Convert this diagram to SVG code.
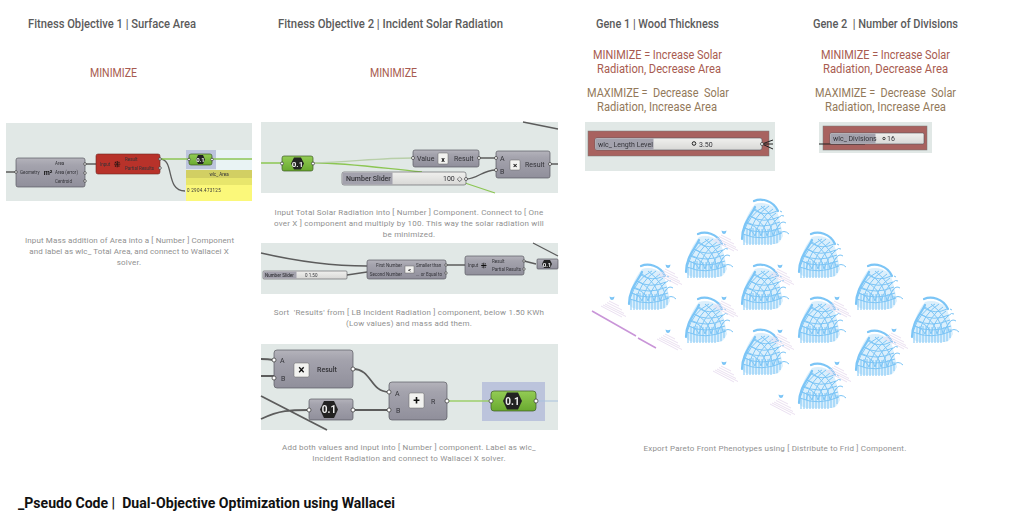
<svg xmlns="http://www.w3.org/2000/svg" width="1024" height="517" viewBox="0 0 1024 517">
<style>
text{font-family:Roboto,"Liberation Sans",sans-serif;white-space:pre}
.t{font-size:12px;font-weight:500;fill:#5b5b5b}
.r{font-size:12px;fill:#a85b50;text-anchor:middle}
.o{font-size:12px;fill:#93795a;text-anchor:middle}
.c{font-size:8px;fill:#909090;text-anchor:middle;letter-spacing:.2px}
.bg{fill:#e1e8e6}
.n{fill:url(#gn);stroke:#5a5a62;stroke-width:.7}
.g{fill:url(#gg);stroke:#3e5a26;stroke-width:.7}
.s{fill:url(#gs);stroke:#55555c;stroke-width:.6}
.sl{fill:#a3a2ad}
.w{fill:none;stroke:#5c5c5c;stroke-width:1.300}
.wb{fill:none;stroke:#5c5c5c;stroke-width:1.800}
.wg{fill:none;stroke:#8cc653;stroke-width:1.300}
.l{font-size:4.500px;fill:#333338}
.m{font-size:7px;fill:#333338}
.ib{fill:#f2f2f0;stroke:#666;stroke-width:.5}
.ic{font-weight:700;fill:#111;text-anchor:middle}
.h{fill:#222}
.h2{fill:#eee;font-weight:700;text-anchor:middle}
.p{fill:#fff;stroke:#333;stroke-width:.7}
.dm{fill:none;stroke:#7cc5f6;stroke-width:1}
.db{fill:#7cc5f6;fill-opacity:.28}
.dk{fill:none;stroke:#7cc5f6;stroke-width:2.200;stroke-linecap:round}
.lb{fill:none;stroke:#e8dcef;stroke-width:.9}
</style>
<defs>
<linearGradient id="gn" x1="0" y1="0" x2="0" y2="1"><stop offset="0" stop-color="#b4b3bb"/><stop offset=".25" stop-color="#a4a3ad"/><stop offset="1" stop-color="#908f9b"/></linearGradient>
<linearGradient id="gg" x1="0" y1="0" x2="0" y2="1"><stop offset="0" stop-color="#93cc55"/><stop offset="1" stop-color="#69a92f"/></linearGradient>
<linearGradient id="gs" x1="0" y1="0" x2="0" y2="1"><stop offset="0" stop-color="#f0f0ee"/><stop offset="1" stop-color="#d8d8d6"/></linearGradient>
<filter id="soft" x="-2%" y="-2%" width="104%" height="104%"><feGaussianBlur stdDeviation="0.35"/></filter>
<symbol id="dome" width="50" height="50" viewBox="0 0 50 50" overflow="visible">
<path class="db" d="M14,6C6,16 1,28 1,41Q3,45 8,46L36,46Q40,43 42,38C40,28 38,18 35,11C28,5 20,4 14,6Z"/>
<path class="dk" d="M13,3C20,0 32,2 37,13M14,9C10,18 1,26 1,41"/>
<path class="dm" d="M3,47V36M6,47V32M9,47V30M12,47V30M15,47V30M18,47V31M21,47V31M24,47V31M27,47V31M30,47V31M33,46V31M36,45V31M39,42V33M2,36Q20,44 41,35M3,30Q20,38 40,30M5,24Q20,32 39,24M9,18Q22,26 38,19M13,12Q24,19 36,13M2,36Q8,16 24,8M8,38Q12,18 28,8M14,38Q18,20 32,11M20,38Q24,22 35,15M26,38Q30,26 37,20M32,38Q35,30 39,26M38,36Q36,20 20,8M32,38Q30,20 14,11M26,38Q24,24 9,18M20,38Q18,28 5,25M14,38Q12,32 3,30M38,36Q43,31 48,36M37,28Q41,22 45,25M37,20Q41,16 43,18M39,13L41,14"/>
</symbol>
<symbol id="lab" width="30" height="24" viewBox="-13 -3 30 24" overflow="visible">
<path d="M-2.500,-1.500Q0,0 2.500,-1.500Q2,2 0,2Q-2,2 -2.500,-1.500Z" fill="#7cc5f6"/>
<path class="lb" d="M-3,3L7,8M-5,4.500L10,12M-7,6L12,15.500M-9,7L14,18.500M-11,8L10,19"/>
</symbol>
</defs>
<rect width="1024" height="517" fill="#fff"/>
<g id="headings">
<text class="t" x="28" y="28" textLength="168" lengthAdjust="spacingAndGlyphs">Fitness Objective 1 | Surface Area</text>
<text class="t" x="278" y="28" textLength="225" lengthAdjust="spacingAndGlyphs">Fitness Objective 2 | Incident Solar Radiation</text>
<text class="t" x="596" y="28" textLength="123" lengthAdjust="spacingAndGlyphs">Gene 1 | Wood Thickness</text>
<text class="t" x="813" y="28" textLength="145" lengthAdjust="spacingAndGlyphs">Gene 2  | Number of Divisions</text>
<text class="r" x="90" y="77" style="text-anchor:start" textLength="47" lengthAdjust="spacingAndGlyphs">MINIMIZE</text>
<text class="r" x="370" y="77" style="text-anchor:start" textLength="47" lengthAdjust="spacingAndGlyphs">MINIMIZE</text>
<text class="r" x="593" y="59" style="text-anchor:start" textLength="129" lengthAdjust="spacingAndGlyphs">MINIMIZE = Increase Solar</text>
<text class="r" x="597" y="73" style="text-anchor:start" textLength="124" lengthAdjust="spacingAndGlyphs">Radiation, Decrease Area</text>
<text class="o" x="587" y="97" style="text-anchor:start" textLength="142" lengthAdjust="spacingAndGlyphs">MAXIMIZE =  Decrease  Solar</text>
<text class="o" x="597" y="111" style="text-anchor:start" textLength="120" lengthAdjust="spacingAndGlyphs">Radiation, Increase Area</text>
<text class="r" x="821" y="59" style="text-anchor:start" textLength="129" lengthAdjust="spacingAndGlyphs">MINIMIZE = Increase Solar</text>
<text class="r" x="823" y="73" style="text-anchor:start" textLength="125" lengthAdjust="spacingAndGlyphs">Radiation, Decrease Area</text>
<text class="o" x="815" y="97" style="text-anchor:start" textLength="141" lengthAdjust="spacingAndGlyphs">MAXIMIZE =  Decrease  Solar</text>
<text class="o" x="825" y="111" style="text-anchor:start" textLength="121" lengthAdjust="spacingAndGlyphs">Radiation, Increase Area</text>
</g>
<g id="screens" filter="url(#soft)">
<g id="panels">
<rect class="bg" x="6" y="123" width="246" height="78"/>
<rect class="bg" x="261" y="122" width="297" height="71"/>
<rect class="bg" x="261" y="243" width="297" height="51"/>
<rect class="bg" x="261" y="344" width="297" height="86"/>
<rect class="bg" x="585" y="122" width="190" height="49"/>
<rect class="bg" x="819" y="122" width="113" height="31"/>
<rect x="588" y="131" width="181" height="25" fill="#a8625f" stroke="#777" stroke-width=".5"/>
<rect x="823" y="126" width="104" height="24" fill="#a8625f" stroke="#777" stroke-width=".5"/>
<rect x="186" y="150" width="30" height="19" fill="#bcc4dc"/>
<rect x="216" y="150" width="36" height="20" fill="#e9f3f4"/>
<rect x="482" y="382" width="63" height="39" fill="#bcc4dc"/>
</g>
<g id="connectors">
<path class="w" d="M6,172H16M85,164H96M160,159C175,159 165,191 185,191"/>
<path class="wg" d="M160,159H252"/>
<path class="wg" d="M261,163H282M313,163C350,163 380,168 422,172M465,183L495,193"/>
<path d="M313,163C350,162 380,158 413,158" fill="none" stroke="#b8cfa8" stroke-width="1.300"/>
<path class="w" d="M479,158H496M466,179C478,179 482,170 496,170M550,164H558M523,122L558,129"/>
<path class="w" d="M261,253C300,262 330,266 367,266M347,275L367,272M446,265H465M524,261L536,264M533,243L558,256"/>
<path class="wb" d="M261,359Q268,359 274,360M261,376H274M353,369C372,369 370,392 389,392M353,410H389M261,396L327,430M261,419C280,410 290,410 309,410"/>
<path d="M447,401H491" fill="none" stroke="#9ccf6a" stroke-width="1.500"/>
<path d="M536,401H558" fill="none" stroke="#a9c2de" stroke-width="1"/>
<path d="M762,144L773,140M762,144H773M762,144L773,149" fill="none" stroke="#222" stroke-width="1"/>
<path d="M819,144H865" fill="none" stroke="#222" stroke-width="1.200"/>
</g>
<g id="node-area">
<rect class="n" x="16" y="158" width="69" height="29" rx="2"/>
<text class="l" x="20" y="174">Geometry</text><text class="ic" x="48" y="175" font-size="7">m²</text>
<text class="l" x="55" y="165">Area</text><text class="l" x="55" y="174">Area (error)</text><text class="l" x="55" y="183">Centroid</text>
<circle class="p" cx="16" cy="172" r="1.300"/><circle class="p" cx="85" cy="164" r="1.300"/><circle class="p" cx="85" cy="173" r="1.300"/><circle class="p" cx="85" cy="181" r="1.300"/>
</g>
<g id="node-mass-a">
<rect x="96" y="154" width="64" height="20" rx="2" fill="#b8322a" stroke="#6d2520" stroke-width=".6"/>
<text class="l" x="100" y="166">Input</text><text class="ic" x="117" y="167" font-size="8">⁜</text>
<text class="l" x="125" y="161">Result</text><text class="l" x="125" y="170">Partial Results</text>
<circle class="p" cx="160" cy="159" r="1.300"/><circle class="p" cx="160" cy="168" r="1.300"/>
</g>
<g id="node-num-a">
<rect class="g" x="189" y="154" width="23" height="11" rx="2"/>
<polygon class="h" points="196,159.500 198,155 203,155 205,159.500 203,164 198,164"/>
<text class="h2" x="200.500" y="162" font-size="6">0.1</text>
<circle class="p" cx="189" cy="159.500" r="1.300"/><circle class="p" cx="212" cy="159.500" r="1.300"/>
</g>
<g id="panel-area">
<rect x="186" y="170" width="66" height="8" fill="#d2cf63"/>
<rect x="186" y="178" width="66" height="7" fill="#e8e66c"/>
<rect x="186" y="185" width="66" height="16" fill="#fbf87a"/>
<text class="l" x="219" y="176" text-anchor="middle">wlc_ Area</text>
<text class="l" x="187" y="191.500" letter-spacing=".3">0 2904.473125</text>
</g>
<g id="node-num-b">
<rect class="g" x="282" y="156" width="31" height="15" rx="2"/>
<polygon class="h" points="291,163.500 294,157.500 301,157.500 304,163.500 301,169.500 294,169.500"/>
<text class="h2" x="297.500" y="166.500" font-size="8">0.1</text>
<circle class="p" cx="282" cy="163.500" r="1.500"/><circle class="p" cx="313" cy="163.500" r="1.500"/>
</g>
<g id="node-value">
<rect class="n" x="413" y="150" width="66" height="17" rx="2"/>
<text class="m" x="417" y="161" font-size="6">Value</text><rect class="ib" x="438" y="153" width="10" height="11" rx="1"/>
<text class="ic" x="443" y="161.500" font-size="7">x</text><text class="m" x="454" y="161">Result</text>
<circle class="p" cx="413" cy="158" r="1.500"/><circle class="p" cx="479" cy="158" r="1.500"/>
</g>
<g id="node-mult-a">
<rect class="n" x="496" y="151" width="54" height="27" rx="2"/>
<text class="m" x="500" y="161">A</text><text class="m" x="500" y="174">B</text>
<rect class="ib" x="510" y="160" width="10" height="10" rx="1"/><text class="ic" x="515" y="168" font-size="8">×</text>
<text class="m" x="525" y="167">Result</text>
<circle class="p" cx="496" cy="158" r="1.500"/><circle class="p" cx="496" cy="170" r="1.500"/><circle class="p" cx="550" cy="164" r="1.500"/>
</g>
<g id="node-slider-a">
<rect class="s" x="342" y="172" width="124" height="13" rx="2"/><rect class="sl" x="342.500" y="172.500" width="50" height="12"/>
<text class="m" x="346" y="181" font-weight="500">Number Slider</text><text class="m" x="443" y="181">100 ◇</text>
<circle class="p" cx="466" cy="179" r="1.500"/>
</g>
<g id="node-slider-b">
<rect class="s" x="263" y="271" width="84" height="8" rx="1"/><rect class="sl" x="263.500" y="271.500" width="33" height="7"/>
<text class="l" x="265" y="277" font-weight="500">Number Slider</text><text class="l" x="305" y="277">0 1.50</text>
</g>
<g id="node-compare">
<rect class="n" x="367" y="260" width="79" height="19" rx="2"/>
<text class="l" x="402" y="267" text-anchor="end">First Number</text><text class="l" x="402" y="275.500" text-anchor="end">Second Number</text>
<rect class="ib" x="405" y="266" width="9" height="7"/><text class="ic" x="409.500" y="272" font-size="6">&lt;</text>
<text class="l" x="416" y="267">Smaller than</text><text class="l" x="416" y="275.500">... or Equal to</text>
<circle class="p" cx="446" cy="265" r="1.200"/><circle class="p" cx="446" cy="273" r="1.200"/>
</g>
<g id="node-mass-b">
<rect class="n" x="465" y="256" width="59" height="19" rx="2"/>
<text class="l" x="468" y="267">Input</text><text class="ic" x="484" y="268" font-size="7">⁜</text>
<text class="l" x="492" y="263">Result</text><text class="l" x="492" y="271">Partial Results</text>
<circle class="p" cx="524" cy="261" r="1.200"/><circle class="p" cx="524" cy="269" r="1.200"/>
</g>
<g id="node-num-c">
<rect class="n" x="537" y="259" width="21" height="10" rx="1"/>
<polygon class="h" points="542,264 544,260 550,260 552,264 550,268 544,268"/>
<text class="h2" x="547" y="266.500" font-size="6">0.1</text>
</g>
<g id="node-mult-b">
<rect class="n" x="274" y="350" width="79" height="38" rx="3"/>
<text class="m" x="280" y="363" font-size="8">A</text><text class="m" x="281" y="381" font-size="8">B</text>
<rect class="ib" x="294" y="363" width="15" height="14" rx="1.500"/><text class="ic" x="301.500" y="374" font-size="12">×</text>
<text class="m" x="317" y="372" font-size="8" font-weight="500">Result</text>
<circle class="p" cx="274" cy="360" r="2"/><circle class="p" cx="274" cy="378" r="2"/><circle class="p" cx="353" cy="369" r="2"/>
</g>
<g id="node-add">
<rect class="n" x="389" y="382" width="58" height="38" rx="3"/>
<text class="m" x="395" y="396" font-size="8">A</text><text class="m" x="396" y="413" font-size="8">B</text>
<rect class="ib" x="409" y="393" width="15" height="15" rx="1.500"/><text class="ic" x="416.500" y="405" font-size="12">+</text>
<text class="m" x="431" y="404" font-size="8">R</text>
<circle class="p" cx="389" cy="392" r="2"/><circle class="p" cx="389" cy="410" r="2"/><circle class="p" cx="447" cy="401" r="2"/>
</g>
<g id="node-num-d">
<rect class="n" x="309" y="399" width="44" height="21" rx="2"/>
<polygon class="h" points="320,409.500 324,401 334,401 338,409.500 334,418 324,418"/>
<text class="h2" x="329" y="413" font-size="10">0.1</text>
<circle class="p" cx="309" cy="410" r="2"/><circle class="p" cx="353" cy="410" r="2"/>
</g>
<g id="node-num-e">
<rect class="g" x="491" y="391" width="45" height="20" rx="3"/>
<polygon class="h" points="503,401 507,392.500 518,392.500 522,401 518,409.500 507,409.500"/>
<text class="h2" x="512.500" y="404.500" font-size="10">0.1</text>
<circle class="p" cx="491" cy="401" r="2"/><circle class="p" cx="536" cy="401" r="2"/>
</g>
<g id="node-gene-1">
<rect class="s" x="595" y="138" width="167" height="12" rx="2"/><rect class="sl" x="595.500" y="138.500" width="58" height="11"/>
<text class="m" x="598" y="146.500">wlc_ Length Level</text>
<circle cx="694" cy="143.500" r="1.800" fill="none" stroke="#222" stroke-width="1"/><text class="m" x="699" y="146.500" fill="#777">3.50</text>
<circle class="p" cx="762" cy="144" r="1.500"/>
</g>
<g id="node-gene-2">
<rect class="s" x="830" y="133" width="94" height="11" rx="1.500"/><rect class="sl" x="830.500" y="133.500" width="45" height="10"/>
<text class="m" x="833" y="141" font-size="6.500">wlc_ Divisions</text>
<circle cx="884" cy="138.500" r="1.200" fill="none" stroke="#222" stroke-width=".8"/><text class="m" x="887" y="141" font-size="6">16</text>
</g>
</g>
<g id="captions">
<text class="c" x="129.500" y="243" textLength="209" style="letter-spacing:0">Input Mass addition of Area into a [ Number ] Component</text>
<text class="c" x="129" y="254" style="letter-spacing:.1px">and label as wlc_ Total Area, and connect to Wallacei X</text>
<text class="c" x="129" y="265">solver.</text>
<text class="c" x="409" y="215">Input Total Solar Radiation into [ Number ] Component. Connect to [ One</text>
<text class="c" x="409" y="226">over X ] component and multiply by 100. This way the solar radiation will</text>
<text class="c" x="409" y="237">be minimized.</text>
<text class="c" x="409" y="315">Sort  'Results' from [ LB Incident Radiation ] component, below 1.50 KWh</text>
<text class="c" x="409" y="326">(Low values) and mass add them.</text>
<text class="c" x="409" y="450">Add both values and input into [ Number ] component. Label as wlc_</text>
<text class="c" x="409" y="461">Incident Radiation and connect to Wallacei X solver.</text>
<text class="c" x="775" y="451">Export Pareto Front Phenotypes using [ Distribute to Frid ] Component.</text>
</g>
<g id="phenotypes">
<use href="#dome" x="628" y="263" width="50" height="50"/>
<use href="#dome" x="685" y="231" width="50" height="50"/>
<use href="#dome" x="741" y="198" width="50" height="50"/>
<use href="#dome" x="685" y="296" width="50" height="50"/>
<use href="#dome" x="741" y="263" width="50" height="50"/>
<use href="#dome" x="798" y="231" width="50" height="50"/>
<use href="#dome" x="741" y="328" width="50" height="50"/>
<use href="#dome" x="798" y="296" width="50" height="50"/>
<use href="#dome" x="855" y="263" width="50" height="50"/>
<use href="#dome" x="798" y="362" width="50" height="50"/>
<use href="#dome" x="855" y="329" width="50" height="50"/>
<use href="#dome" x="911" y="296" width="50" height="50"/>
<use href="#lab" x="655" y="263" width="30" height="24"/>
<use href="#lab" x="711" y="229" width="30" height="24"/>
<use href="#lab" x="711" y="295" width="30" height="24"/>
<use href="#lab" x="767" y="263" width="30" height="24"/>
<use href="#lab" x="767" y="328" width="30" height="24"/>
<use href="#lab" x="824" y="295" width="30" height="24"/>
<use href="#lab" x="824" y="360" width="30" height="24"/>
<use href="#lab" x="881" y="327" width="30" height="24"/>
<use href="#lab" x="599" y="295" width="30" height="24"/>
<use href="#lab" x="655" y="328" width="30" height="24"/>
<use href="#lab" x="711" y="360" width="30" height="24"/>
<use href="#lab" x="768" y="393" width="30" height="24"/>
<path d="M592,311L636,336M638,338L656,348" fill="none" stroke="#c995d8" stroke-width="1.500"/>
</g>
<text x="18" y="508" font-size="14" font-weight="700" fill="#111" textLength="377" lengthAdjust="spacingAndGlyphs">_Pseudo Code |  Dual-Objective Optimization using Wallacei</text>
</svg>
